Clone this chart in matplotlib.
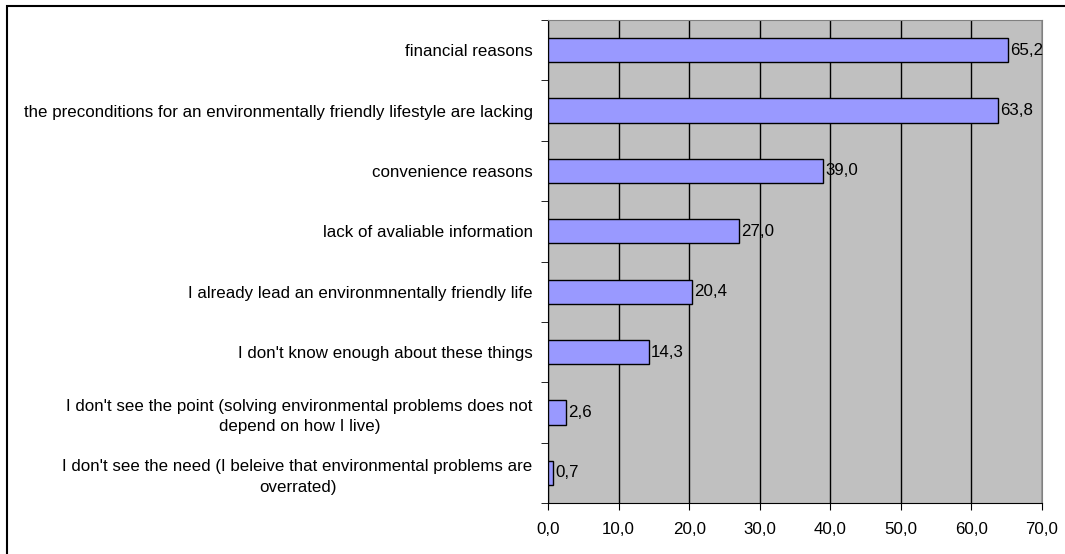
import matplotlib
matplotlib.use("Agg")
import matplotlib.pyplot as plt
from matplotlib.patches import Rectangle

plt.rcParams['font.family'] = ['Liberation Sans', 'DejaVu Sans']

# reasons, top to bottom
categories = [
    "financial reasons",
    "the preconditions for an environmentally friendly lifestyle are lacking",
    "convenience reasons",
    "lack of avaliable information",
    "I already lead an environmnentally friendly life",
    "I don't know enough about these things",
    "I don't see the point (solving environmental problems does not\ndepend on how I live)",
    "I don't see the need (I beleive that environmental problems are\noverrated)",
]
values = [65.2, 63.8, 39.0, 27.0, 20.4, 14.3, 2.6, 0.7]
xticks = [0, 10, 20, 30, 40, 50, 60, 70]

fs = 12.15

fig = plt.figure(figsize=(10.65, 5.54), dpi=100)
ax = fig.add_axes([548/1065, 51/554, 494/1065, 483/554])
ax.set_facecolor('#C0C0C0')

pos = list(range(len(categories)))
ax.barh(pos, values, height=0.4, color='#9999FF', edgecolor='black', linewidth=1, zorder=3)
for p, v in zip(pos, values):
    ax.text(v + 0.3, p, f"{v:.1f}".replace('.', ','), va='center', ha='left', fontsize=fs, zorder=4)

ax.set_ylim(len(categories) - 0.5, -0.5)
ax.set_xlim(0, 70)
ax.set_xticks(xticks)
ax.set_xticklabels([f"{t:.1f}".replace('.', ',') for t in xticks], fontsize=fs)
ax.set_yticks(pos)
ax.set_yticklabels(categories, fontsize=fs, multialignment='center', linespacing=1.45)
ax.set_yticks([p + 0.5 for p in [-1] + pos], minor=True)
ax.tick_params(axis='y', which='major', length=0, pad=11)
ax.tick_params(axis='y', which='minor', length=5, direction='out')
ax.tick_params(axis='x', length=5, direction='out', pad=9)
ax.xaxis.grid(True, color='black', linewidth=1, zorder=1)
ax.set_axisbelow(True)
for s in ['top', 'right']:
    ax.spines[s].set_color('#808080')
for s in ['left', 'bottom']:
    ax.spines[s].set_color('black')

fig.patches.append(Rectangle((7/1065, -0.1), 1.2, (554 - 6)/554 + 0.1, transform=fig.transFigure,
                             fill=False, edgecolor='black', linewidth=1.5))

fig.savefig("out.png", dpi=100)
